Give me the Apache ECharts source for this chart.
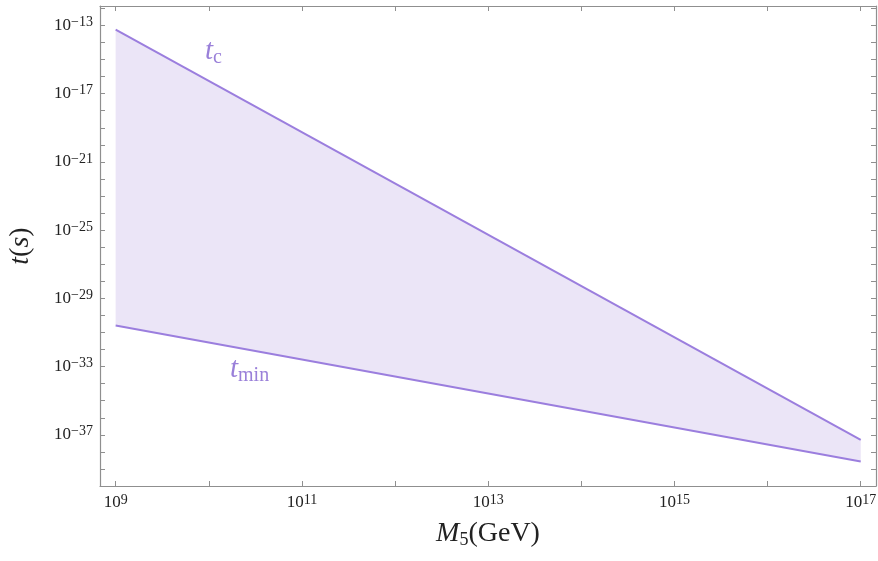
<!DOCTYPE html>
<html lang="en">
<head>
    <meta charset="UTF-8">
    <title>t(s) vs M5</title>
    <script src="https://cdn.jsdelivr.net/npm/echarts@6/dist/echarts.min.js"></script>
    <style>
        html, body { margin: 0; padding: 0; background: #fff; }
        #chart { width: 878px; height: 561px; }
    </style>
</head>
<body>
<div id="chart"></div>
<script>
    // data (straight lines on log-log axes)
    var mass = [1e9, 1e17];            // M5 in GeV
    var tC   = [5.6e-14, 5.0e-38];     // t_c in s
    var tMin = [2.6e-31, 2.75e-39];    // t_min in s

    // axes are drawn in decades (log10 of the value)
    var xRange = [8.832, 17.164];
    var yRange = [-40, -11.86];
    var xTickExp = [9, 10, 11, 12, 13, 14, 15, 16, 17];
    var xLabelExp = [9, 11, 13, 15, 17];
    var yTickExp = [];
    for (var k = -40; k <= -12; k++) yTickExp.push(k);
    var yLabelExp = [-37, -33, -29, -25, -21, -17, -13];

    var lineColor = '#9b7ede';
    var fillColor = '#ebe5f7';
    var frameColor = '#8f8f8f';
    var textColor = '#222';
    var noteColor = '#9a80d9';
    var font = 'Liberation Serif';

    function pt(m, t) { return [Math.log10(m), Math.log10(t)]; }
    function powLabel(e) {
        return '{b|10}{s|' + String(e).replace('-', '\u2212') + '}';
    }
    var labelRich = {
        b: { fontFamily: font, fontSize: 17, color: textColor, lineHeight: 20 },
        s: { fontFamily: font, fontSize: 14, color: textColor, lineHeight: 13, verticalAlign: 'top' }
    };

    var chart = echarts.init(document.getElementById('chart'));

    function axisBase(pos, range, ticks, labels) {
        return {
            type: 'value',
            position: pos,
            min: range[0],
            max: range[1],
            axisLine: { show: true, onZero: false, lineStyle: { color: frameColor, width: 1.2 } },
            axisTick: { show: true, inside: true, length: 5, customValues: ticks,
                lineStyle: { color: frameColor, width: 1 } },
            splitLine: { show: false },
            axisLabel: {
                show: !!labels,
                customValues: labels || ticks,
                margin: 7,
                formatter: function (v) { return powLabel(Math.round(v)); },
                rich: labelRich
            }
        };
    }

    var xBottom = axisBase('bottom', xRange, xTickExp, xLabelExp);
    xBottom.name = '{i|M}{sub|5}{r|(GeV)}';
    xBottom.nameLocation = 'middle';
    xBottom.nameGap = 33;
    xBottom.nameTextStyle = {
        rich: {
            i: { fontFamily: font, fontSize: 28, fontStyle: 'italic', color: textColor, lineHeight: 30 },
            sub: { fontFamily: font, fontSize: 18, color: textColor, lineHeight: 22, verticalAlign: 'bottom' },
            r: { fontFamily: font, fontSize: 28, color: textColor, lineHeight: 30 }
        }
    };
    var xTop = axisBase('top', xRange, xTickExp, null);

    var yLeft = axisBase('left', yRange, yTickExp, yLabelExp);
    yLeft.name = '{i|t}{r|(}{i|s}{r|)}';
    yLeft.nameLocation = 'middle';
    yLeft.nameRotate = 90;
    yLeft.nameGap = 65;
    yLeft.nameTextStyle = {
        rich: {
            i: { fontFamily: font, fontSize: 28, fontStyle: 'italic', color: textColor },
            r: { fontFamily: font, fontSize: 28, color: textColor }
        }
    };
    var yRight = axisBase('right', yRange, yTickExp, null);

    function note(text, left, top) {
        return {
            type: 'text', left: left, top: top,
            style: {
                text: text,
                rich: {
                    t: { fontFamily: font, fontSize: 29, fontStyle: 'italic', fill: noteColor, lineHeight: 32 },
                    sub: { fontFamily: font, fontSize: 20, fill: noteColor, lineHeight: 24, verticalAlign: 'bottom' }
                }
            }
        };
    }

    var option = {
        animation: false,
        backgroundColor: '#fff',
        grid: { left: 100, right: 2, top: 6, bottom: 75, containLabel: false, outerBoundsMode: 'none' },
        xAxis: [xBottom, xTop],
        yAxis: [yLeft, yRight],
        series: [
            {
                name: 'band',
                type: 'custom',
                clip: true,
                silent: true,
                z: 1,
                data: [pt(mass[0], tC[0])],
                renderItem: function (params, api) {
                    var pts = [];
                    for (var i = 0; i < mass.length; i++) pts.push(api.coord(pt(mass[i], tC[i])));
                    for (var j = mass.length - 1; j >= 0; j--) pts.push(api.coord(pt(mass[j], tMin[j])));
                    return { type: 'polygon', shape: { points: pts }, style: { fill: fillColor } };
                }
            },
            {
                name: 't_c',
                type: 'line',
                showSymbol: false,
                z: 3,
                lineStyle: { color: lineColor, width: 2 },
                data: mass.map(function (m, i) { return pt(m, tC[i]); })
            },
            {
                name: 't_min',
                type: 'line',
                showSymbol: false,
                z: 3,
                lineStyle: { color: lineColor, width: 2 },
                data: mass.map(function (m, i) { return pt(m, tMin[i]); })
            }
        ],
        graphic: [
            note('{t|t}{sub|c}', 205, 37),
            note('{t|t}{sub|min}', 230, 355)
        ]
    };
    chart.setOption(option);
</script>
</body>
</html>
